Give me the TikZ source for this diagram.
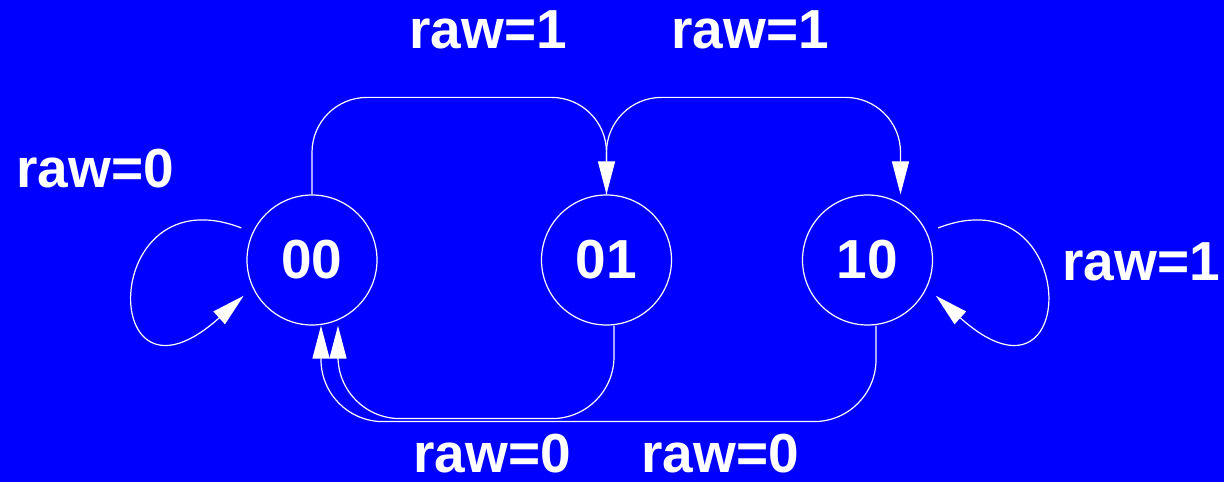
\documentclass[tikz,border=0pt]{standalone}
\usepackage{fontspec}
\setmainfont{Liberation Sans}
\usetikzlibrary{arrows.meta,positioning,calc}
\definecolor{bgblue}{RGB}{0,0,255}

\begin{document}
\begin{tikzpicture}[
    x=1pt, y=1pt,
    state/.style={circle, draw=white, line width=1.2pt, minimum size=130pt, inner sep=0pt, text=white, font=\fontsize{55}{60}\selectfont\bfseries},
    lbl/.style={text=white, inner sep=0pt, font=\fontsize{55}{60}\selectfont\bfseries},
    edge/.style={draw=white, line width=1.2pt, -{Triangle[length=33pt,width=17pt]}},
]
    \fill[bgblue] (0,0) rectangle (1224,482);
    \useasboundingbox (0,0) rectangle (1224,482);

    \node[state] (s00) at (312,222) {00};
    \node[state] (s01) at (606.5,222) {01};
    \node[state] (s10) at (867.5,222) {10};

    % forward transitions over the top
    \draw[edge, rounded corners=55pt] (s00.north) -- ++(0,97) -| (s01.north);
    \draw[edge, rounded corners=55pt] (s01.north) -- ++(0,97) -| ([xshift=33pt]s10.north);

    % back to 00 underneath
    \draw[edge, rounded corners=62pt] ([xshift=7.5pt]s01.south) -- ++(0,-93) -| ([xshift=26pt]s00.south);
    \draw[edge, rounded corners=62pt] ([xshift=8.5pt]s10.south) -- ++(0,-96) -| ([xshift=9pt]s00.south);

    % self loops
    \draw[edge, shorten <=12pt, shorten >=12pt] (s00.155) .. controls +(-155,60) and +(-155,-140) .. (s00.205);
    \draw[edge, shorten <=12pt, shorten >=12pt] (s10.25) .. controls +(155,60) and +(155,-140) .. (s10.-25);

    \node[lbl] (t1) at (488,452) {raw=1};
    \node[lbl] (t2) at (750,452) {raw=1};
    \node[lbl] (t3) at (95,313) {raw=0};
    \node[lbl] (t4) at (1141,220) {raw=1};
    \node[lbl] (b1) at (492,28) {raw=0};
    \node[lbl] (b2) at (720,28) {raw=0};
\end{tikzpicture}
\end{document}
